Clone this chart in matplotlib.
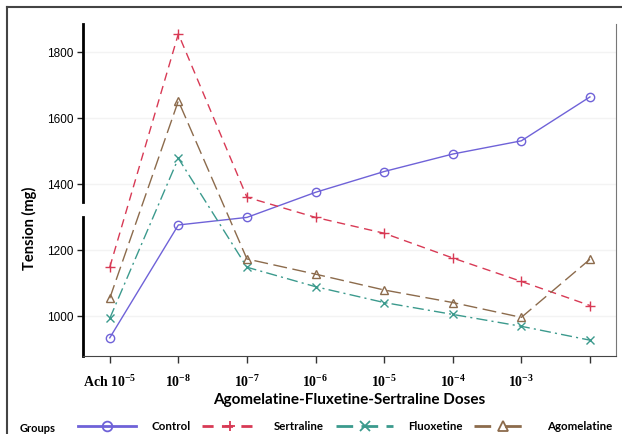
import numpy as np
import matplotlib
matplotlib.use("Agg")
import matplotlib.pyplot as plt
from matplotlib.lines import Line2D

# dose labels (last tick is left unlabelled in the original)
doses = ["Ach 10$^{-5}$", "10$^{-8}$", "10$^{-7}$", "10$^{-6}$",
         "10$^{-5}$", "10$^{-4}$", "10$^{-3}$", ""]

control = [934, 1276, 1299, 1375, 1438, 1491, 1531, 1664]
sertraline = [1148, 1855, 1360, 1299, 1251, 1176, 1105, 1032]
fluoxetine = [993, 1478, 1148, 1089, 1041, 1005, 969, 927]
agomelatine = [1054, 1652, 1173, 1127, 1079, 1041, 996, 1172]

groups = ["Control", "Sertraline", "Fluoxetine", "Agomelatine"]
series = [control, sertraline, fluoxetine, agomelatine]
yticks = [1000, 1200, 1400, 1600, 1800]

colors = ["#6f62d8", "#d83a55", "#3b9a8d", "#8c6b4c"]
markers = ["o", "+", "x", "^"]
dashes = [None, (6, 4), (8, 3, 1.5, 3), (10, 4)]
leg_dashes = [None, (4, 3), (6, 3), (6, 5)]

plt.rcParams["mathtext.fontset"] = "custom"
plt.rcParams["mathtext.rm"] = "Liberation Serif:bold"
plt.rcParams["mathtext.it"] = "Liberation Serif:bold"
plt.rcParams["mathtext.bf"] = "Liberation Serif:bold"

fig = plt.figure(figsize=(6.22, 4.34), dpi=100)
ax = fig.add_axes([83 / 622, 1 - 356 / 434, (616 - 83) / 622, (356 - 24) / 434])

x = np.arange(len(doses))
for vals, name, c, m, d in zip(series, groups, colors, markers, dashes):
    ln, = ax.plot(x, vals, color=c, lw=1.0, marker=m, ms=6 if m != "+" else 7,
                  mfc="none", mec=c, mew=1.0, label=name)
    if d is not None:
        ln.set_dashes(d)

ax.set_xlim(-0.39, 7.38)
ax.set_ylim(879, 1885)
ax.set_xticks(x)
ax.set_xticklabels(doses, fontsize=10, family="Liberation Serif", fontweight="bold")
ax.set_yticks(yticks)
ax.set_yticklabels([str(v) for v in yticks], fontsize=8.5,
                   family=["Liberation Sans Narrow", "Liberation Sans"])
ax.tick_params(axis="x", length=5, width=1, color="#333333", pad=8)
ax.tick_params(axis="y", length=4, width=1, color="#222222", pad=3)
ax.grid(axis="y", color="#f3f3f3", lw=1)
ax.set_axisbelow(True)

ax.spines["top"].set_visible(False)
ax.spines["right"].set_color("#777777")
ax.spines["bottom"].set_color("#444444")
ax.spines["left"].set_visible(False)

# broken left spine
brk_lo, brk_hi = 1300, 1345
ax.plot([0, 0], [879, brk_lo], color="black", lw=2, transform=ax.get_yaxis_transform(),
        clip_on=False)
ax.plot([0, 0], [brk_hi, 1885], color="black", lw=2, transform=ax.get_yaxis_transform(),
        clip_on=False)

ax.set_ylabel("Tension (mg)", fontsize=10.5, family="Lato", fontweight="bold")
ax.yaxis.set_label_coords(-(83 - 37) / 533, (356 - 228) / 332)
ax.set_xlabel("Agomelatine-Fluxetine-Sertraline Doses", fontsize=11, family="Lato",
              fontweight="bold", labelpad=2)

# legend row
handles = []
for c, m, d in zip(colors, markers, leg_dashes):
    h = Line2D([], [], color=c, lw=2, marker=m, ms=7, mfc="none", mec=c, mew=1.3)
    if d is not None:
        h.set_dashes(d)
    handles.append(h)
fig.text(20 / 622, 1 - 428 / 434, "Groups", fontsize=8, family="Lato",
         fontweight="bold", va="center")
fig.legend(handles, groups, loc="center left", bbox_to_anchor=(68 / 622, 1 - 427 / 434),
           ncol=4, frameon=False, handlelength=5.0, handletextpad=1.3,
           columnspacing=1.0, markerfirst=True,
           prop={"family": "Lato", "weight": "bold", "size": 8.3})

# outer frame of the original picture
fig.add_artist(Line2D([7 / 622, 1], [1 - 7 / 434, 1 - 7 / 434], color="#444444", lw=1.5))
fig.add_artist(Line2D([7 / 622, 7 / 622], [0, 1 - 7 / 434], color="#444444", lw=1.5))

fig.savefig("out.png", dpi=100)
